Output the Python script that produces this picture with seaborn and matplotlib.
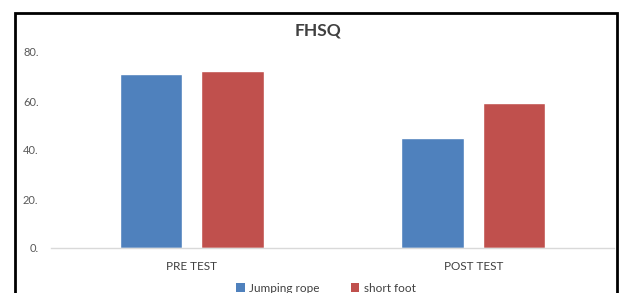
import matplotlib
matplotlib.use("Agg")
import matplotlib.pyplot as plt
from matplotlib.patches import Rectangle, Patch
import seaborn as sns
import pandas as pd

# values
tests = ["PRE TEST", "POST TEST"]
groups = ["Jumping rope", "short foot"]
jumping_rope = [71.0, 45.0]
short_foot = [72.4, 59.3]
y_ticks = [0, 20, 40, 60, 80]
colors = ["#4F81BD", "#C0504D"]

df = pd.DataFrame({
    "test": tests * 2,
    "group": [groups[0]] * 2 + [groups[1]] * 2,
    "score": jumping_rope + short_foot,
})

sns.set_style("white")
plt.rcParams["font.family"] = ["Lato", "DejaVu Sans"]

fig = plt.figure(figsize=(6.19, 2.93), dpi=100)
ax = fig.add_axes([51 / 619, 45 / 293, 563 / 619, 196 / 293])

sns.barplot(data=df, x="test", y="score", hue="group", order=tests,
            hue_order=groups, palette=colors, width=0.579, gap=0.233,
            saturation=1, legend=False, ax=ax)

ax.set_xlim(-0.5, 1.5)
ax.set_ylim(0, 80)
ax.set_yticks(y_ticks)
ax.set_yticklabels([f"{v}." for v in y_ticks], color="#595959", fontsize=8)
ax.set_xticklabels(tests, color="#404040", fontsize=8.5)
ax.tick_params(axis="x", length=0, pad=9)
ax.tick_params(axis="y", length=0, pad=9)
ax.set_xlabel("")
ax.set_ylabel("")
for side in ["left", "right", "top"]:
    ax.spines[side].set_visible(False)
ax.spines["bottom"].set_color("#d9d9d9")
ax.spines["bottom"].set_linewidth(1)

fig.text(318 / 619, 1 - 31 / 293, "FHSQ", ha="center", va="center",
         fontsize=12.5, fontweight="bold", color="#404040")

handles = [Patch(facecolor=c, edgecolor="none") for c in colors]
fig.legend(handles, groups, loc="center", bbox_to_anchor=(326 / 619, 1 - 288 / 293),
           ncol=2, frameon=False, fontsize=8.5, handlelength=0.7, handleheight=0.7,
           handletextpad=0.4, columnspacing=2.6, labelcolor="#404040")

fig.patches.append(Rectangle((15 / 619, -0.1), 602 / 619, 1.1 - 13 / 293,
                             transform=fig.transFigure, fill=False,
                             edgecolor="black", linewidth=2, zorder=10))

fig.savefig("out.png", dpi=100)
